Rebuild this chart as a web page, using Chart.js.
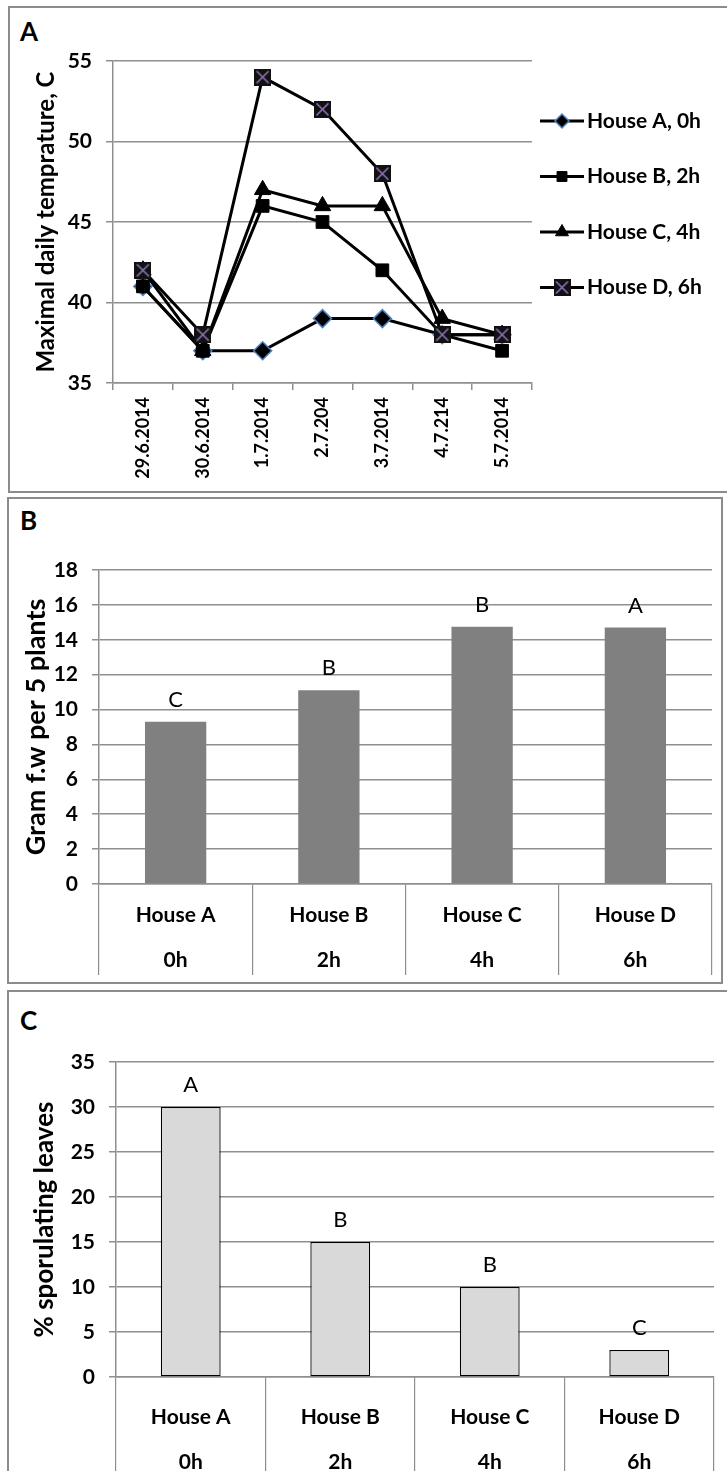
<!DOCTYPE html>
<html>
<head>
<meta charset="utf-8">
<script src="https://cdn.jsdelivr.net/npm/chart.js@4.4.1/dist/chart.umd.min.js"></script>
<style>
  body { margin: 0; background: #fff; width: 727px; height: 1471px; overflow: hidden; position: relative; font-family: Lato, sans-serif; }
  .panel { position: absolute; border: 2px solid #8c8c8c; box-sizing: border-box; }
  .tag { position: absolute; left: 20px; font: bold 26px/26px Lato, sans-serif; color: #000; }
  canvas { position: absolute; left: 0; }
</style>
</head>
<body>
<div class="panel" style="left:8px;top:6px;width:740px;height:487px"></div>
<div class="panel" style="left:7px;top:497px;width:716px;height:487px"></div>
<div class="panel" style="left:7px;top:990px;width:740px;height:500px"></div>
<div class="tag" style="top:18px">A</div>
<div class="tag" style="top:507px">B</div>
<div class="tag" style="top:1007px">C</div>
<canvas id="tempChart" width="727" height="495" style="top:0"></canvas>
<canvas id="weightChart" width="727" height="490" style="top:495px"></canvas>
<canvas id="sporChart" width="727" height="486" style="top:985px"></canvas>
<script>
// panel A - max daily temperature per house
const dates = ['29.6.2014', '30.6.2014', '1.7.2014', '2.7.204', '3.7.2014', '4.7.214', '5.7.2014'];
const seriesNames = ['House A, 0h', 'House B, 2h', 'House C, 4h', 'House D, 6h'];
const houseA = [41, 37, 37, 39, 39, 38, 38];
const houseB = [41, 37, 46, 45, 42, 38, 37];
const houseC = [42, 37, 47, 46, 46, 39, 38];
const houseD = [42, 38, 54, 52, 48, 38, 38];

// panels B and C
const houses = [['House A', '0h'], ['House B', '2h'], ['House C', '4h'], ['House D', '6h']];
const freshWeight = [9.3, 11.1, 14.75, 14.7];
const weightLetters = ['C', 'B', 'B', 'A'];
const sporulation = [30, 15, 10, 3];
const sporLetters = ['A', 'B', 'B', 'C'];

Chart.defaults.font.family = 'Lato, sans-serif';
Chart.defaults.color = '#000';
Chart.defaults.animation = false;

const gridColor = '#8f8f8f';

// square with an x in it for house D
function crossBox() {
  const c = document.createElement('canvas');
  c.width = 17; c.height = 17;
  const g = c.getContext('2d');
  g.fillStyle = '#111';
  g.fillRect(0, 0, 17, 17);
  g.strokeStyle = '#8f73b8';
  g.lineWidth = 1.6;
  g.beginPath();
  g.moveTo(2.5, 2.5); g.lineTo(14.5, 14.5);
  g.moveTo(14.5, 2.5); g.lineTo(2.5, 14.5);
  g.stroke();
  return c;
}

const sideLegend = {
  id: 'sideLegend',
  afterDraw(chart) {
    const ctx = chart.ctx;
    ctx.save();
    chart.data.datasets.forEach((ds, i) => {
      const y = 121 + i * 55.5;
      ctx.strokeStyle = '#000';
      ctx.lineWidth = 3;
      ctx.beginPath();
      ctx.moveTo(540, y);
      ctx.lineTo(584, y);
      ctx.stroke();
      ctx.fillStyle = ds.pointBackgroundColor;
      ctx.strokeStyle = ds.pointBorderColor;
      ctx.lineWidth = ds.pointBorderWidth;
      if (Chart.helpers && Chart.helpers.drawPoint) {
        Chart.helpers.drawPoint(ctx, { pointStyle: ds.pointStyle, radius: ds.pointRadius - 2, rotation: 0, borderWidth: ds.pointBorderWidth }, 562, y);
      }
      ctx.fillStyle = '#000';
      ctx.font = 'bold 21px Lato, sans-serif';
      ctx.textBaseline = 'middle';
      ctx.textAlign = 'left';
      ctx.fillText(ds.label, 587, y);
    });
    ctx.restore();
  }
};

function lettersPlugin(letters) {
  return {
    id: 'letters',
    afterDatasetsDraw(chart) {
      const ctx = chart.ctx;
      ctx.save();
      ctx.font = '22px Lato, sans-serif';
      ctx.fillStyle = '#000';
      ctx.textAlign = 'center';
      ctx.textBaseline = 'middle';
      chart.getDatasetMeta(0).data.forEach((bar, i) => {
        ctx.fillText(letters[i], bar.x, bar.y - 22);
      });
      ctx.restore();
    }
  };
}

function lineSet(label, data, style, radius, order) {
  return {
    label: label,
    data: data,
    borderColor: '#000',
    borderWidth: 3,
    pointStyle: style,
    pointRadius: radius,
    pointBackgroundColor: '#000',
    pointBorderColor: '#000',
    pointBorderWidth: 1,
    tension: 0,
    order: order
  };
}

const setA = lineSet(seriesNames[0], houseA, 'rectRot', 9, 3);
setA.pointBorderColor = '#4f81bd';
setA.pointBorderWidth = 1.5;

new Chart(document.getElementById('tempChart'), {
  type: 'line',
  data: {
    labels: dates,
    datasets: [
      setA,
      lineSet(seriesNames[1], houseB, 'rect', 9, 2),
      lineSet(seriesNames[2], houseC, 'triangle', 9.5, 1),
      lineSet(seriesNames[3], houseD, crossBox(), 9, 0)
    ]
  },
  options: {
    responsive: false,
    layout: { padding: { top: 61, right: 195, left: 0, bottom: 0 } },
    plugins: { legend: { display: false }, tooltip: { enabled: false } },
    scales: {
      x: {
        offset: true,
        grid: { offset: true, drawOnChartArea: false, tickLength: 7, color: gridColor, lineWidth: 1.5 },
        border: { color: gridColor, width: 1.5 },
        ticks: { minRotation: 90, maxRotation: 90, padding: 7, font: { size: 18, weight: 'bold' } },
        afterFit(s) { s.height = 112; }
      },
      y: {
        min: 35,
        max: 55,
        ticks: { stepSize: 5, padding: 14, font: { size: 21, weight: 'bold' } },
        grid: { color: gridColor, lineWidth: 1.5, tickLength: 7 },
        border: { color: gridColor, width: 1.5 },
        title: { display: true, text: 'Maximal daily temprature, C', font: { size: 24, weight: 'bold' }, padding: { top: 32, bottom: 0 } },
        afterFit(s) { s.width = 113; }
      }
    }
  },
  plugins: [sideLegend]
});

function barOptions(yMax, step, title, titleSize, titlePad, yWidth, top, right, xHeight, sepLength) {
  return {
    responsive: false,
    layout: { padding: { top: top, right: right, left: 0, bottom: 0 } },
    plugins: { legend: { display: false }, tooltip: { enabled: false } },
    scales: {
      x: {
        grid: { offset: true, drawOnChartArea: false, tickLength: sepLength, color: gridColor, lineWidth: 1.2 },
        border: { color: gridColor, width: 1.5 },
        ticks: { maxRotation: 0, autoSkip: false, padding: -82.5, font: { size: 21, weight: 'bold', lineHeight: 2.15 } },
        afterFit(s) { s.height = xHeight; }
      },
      y: {
        min: 0,
        max: yMax,
        ticks: { stepSize: step, padding: 14, font: { size: 21, weight: 'bold' } },
        grid: { color: gridColor, lineWidth: 1.5, tickLength: 7 },
        border: { color: gridColor, width: 1.5 },
        title: { display: true, text: title, font: { size: titleSize, weight: 'bold' }, padding: { top: titlePad, bottom: 0 } },
        afterFit(s) { s.width = yWidth; }
      }
    }
  };
}

new Chart(document.getElementById('weightChart'), {
  type: 'bar',
  data: {
    labels: houses,
    datasets: [{
      data: freshWeight,
      backgroundColor: '#808080',
      borderWidth: 0,
      barPercentage: 0.4,
      categoryPercentage: 1
    }]
  },
  options: barOptions(18, 2, 'Gram f.w per 5 plants', 27, 20, 99, 75, 15, 101, 91),
  plugins: [lettersPlugin(weightLetters)]
});

new Chart(document.getElementById('sporChart'), {
  type: 'bar',
  data: {
    labels: houses,
    datasets: [{
      data: sporulation,
      backgroundColor: '#d9d9d9',
      borderColor: '#000',
      borderWidth: 1.3,
      borderSkipped: false,
      barPercentage: 0.4,
      categoryPercentage: 1
    }]
  },
  options: barOptions(35, 5, '% sporulating leaves', 26, 29, 116, 77, 13, 94, 100),
  plugins: [lettersPlugin(sporLetters)]
});
</script>
</body>
</html>
